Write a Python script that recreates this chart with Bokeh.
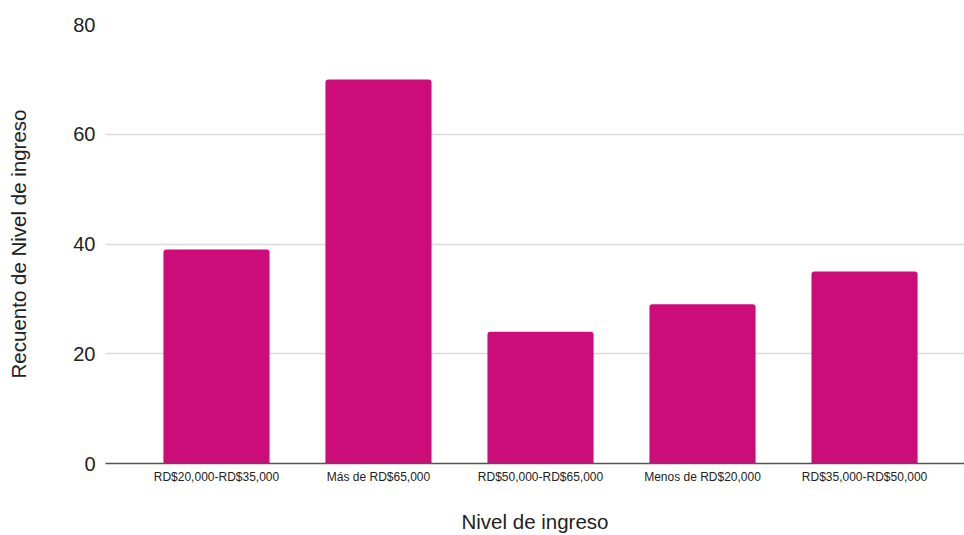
from bokeh.plotting import figure
from bokeh.models import FixedTicker, Range1d
from bokeh.embed import file_html
from bokeh.resources import INLINE

# Income-level counts
categories = [
    "RD$20,000-RD$35,000",
    "Más de RD$65,000",
    "RD$50,000-RD$65,000",
    "Menos de RD$20,000",
    "RD$35,000-RD$50,000",
]
counts = [39, 70, 24, 29, 35]
y_ticks = [0, 20, 40, 60, 80]

positions = list(range(len(categories)))

p = figure(
    width=964,
    height=535,
    output_backend="svg",
    toolbar_location=None,
    x_range=Range1d(-0.685, 4.617),
    y_range=Range1d(0, 80),
    min_border_left=105,
    min_border_right=0,
    min_border_top=24,
    min_border_bottom=72,
)

p.vbar(
    x=positions,
    top=counts,
    width=0.655,
    fill_color="#cc0c78",
    line_color=None,
    border_radius=(3, 3, 0, 0),
)

font = "Liberation Sans"

# x axis: category names under each bar
p.xaxis.ticker = FixedTicker(ticks=positions)
p.xaxis.major_label_overrides = {i: c for i, c in enumerate(categories)}
p.xaxis.major_label_text_font = font
p.xaxis.major_label_text_font_size = "12px"
p.xaxis.major_label_text_color = "#222222"
p.xaxis.major_label_standoff = 6
p.xaxis.major_tick_line_color = None
p.xaxis.major_tick_out = 0
p.xaxis.major_tick_in = 0
p.xaxis.minor_tick_line_color = None
p.xaxis.axis_line_color = "#555555"
p.xaxis.axis_line_width = 1.5
p.xaxis.axis_label = "Nivel de ingreso"
p.xaxis.axis_label_text_font = font
p.xaxis.axis_label_text_font_style = "normal"
p.xaxis.axis_label_text_font_size = "20.5px"
p.xaxis.axis_label_text_color = "#222222"
p.xaxis.axis_label_standoff = 23

# y axis: counts
p.yaxis.ticker = FixedTicker(ticks=y_ticks)
p.yaxis.major_label_text_font = font
p.yaxis.major_label_text_font_size = "20px"
p.yaxis.major_label_text_color = "#222222"
p.yaxis.major_label_standoff = 10
p.yaxis.major_tick_line_color = None
p.yaxis.major_tick_out = 0
p.yaxis.major_tick_in = 0
p.yaxis.minor_tick_line_color = None
p.yaxis.axis_line_color = None
p.yaxis.axis_label = "Recuento de Nivel de ingreso"
p.yaxis.axis_label_text_font = font
p.yaxis.axis_label_text_font_style = "normal"
p.yaxis.axis_label_text_font_size = "20.5px"
p.yaxis.axis_label_text_color = "#222222"
p.yaxis.axis_label_standoff = 40

p.xgrid.grid_line_color = None
p.ygrid.grid_line_color = "#d9d9d9"
p.ygrid.grid_line_width = 1.5
p.outline_line_color = None
p.background_fill_color = "white"
p.border_fill_color = "white"

open("out.html", "w").write(file_html(p, INLINE))
